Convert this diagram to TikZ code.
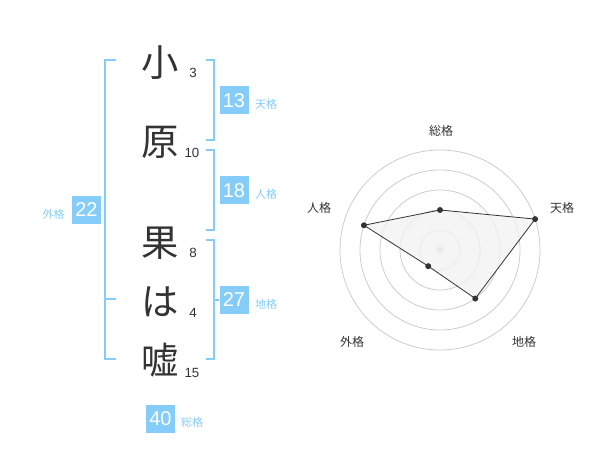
\documentclass[tikz,border=0pt]{standalone}
\usepackage{fontspec}
\setmainfont{Liberation Sans}
\newfontfamily\cjk{Noto Sans CJK JP}
\usepackage{xcolor}
\definecolor{myblue}{RGB}{133,204,248}
\definecolor{mydark}{RGB}{51,51,51}
\definecolor{mygrid}{RGB}{204,204,204}
\definecolor{myfill}{RGB}{242,242,242}
\tikzset{
  char/.style={mydark,inner sep=0,font=\cjk\fontsize{28}{28}\selectfont},
  strokes/.style={mydark,inner sep=0,font=\fontsize{10}{10}\selectfont},
  score/.style={fill=myblue,text=white,inner sep=0,minimum width=21.75pt,minimum height=21pt,font=\fontsize{15}{15}\selectfont},
  kaku/.style={myblue,inner sep=0,font=\cjk\fontsize{8.25}{9}\selectfont},
  axis label/.style={mydark,inner sep=0,font=\cjk\fontsize{9}{10}\selectfont},
  bracket/.style={myblue,line width=1.5pt},
  ring/.style={mygrid,line width=0.6pt},
  poly/.style={draw=mydark,fill=myfill,fill opacity=0.8,line width=0.6pt},
  dot/.style={fill=mydark}
}
\begin{document}
\begin{tikzpicture}[x=0.75pt,y=0.75pt]
    \useasboundingbox (0,0) rectangle (600,470);
    % name and strokes
    \node[char] (c1) at (160,407) {小};
    \node[char] (c2) at (160,328) {原};
    \node[char] (c3) at (160,227) {果};
    \node[char] (c4) at (160,168) {は};
    \node[char] (c5) at (160,110) {嘘};
    \node[strokes] (s1) at (193,397) {3};
    \node[strokes] (s2) at (192,317) {10};
    \node[strokes] (s3) at (193,217) {8};
    \node[strokes] (s4) at (193,157) {4};
    \node[strokes] (s5) at (192,97) {15};

    % scores
    \node[score] (ten) at (234,369.5) {13};
    \node[kaku] at (266,366) {天格};
    \node[score] (jin) at (234,279.5) {18};
    \node[kaku] at (266,276) {人格};
    \node[score] (chi) at (234,170) {27};
    \node[kaku] at (266,166) {地格};
    \node[score] (gai) at (86.5,260) {22};
    \node[kaku] at (53.5,256) {外格};
    \node[score] (sou) at (160.5,51) {40};
    \node[kaku] at (192,48) {総格};

    % brackets
    \draw[bracket] (116,410) -- (105,410) -- (105,111) -- (116,111);
    \draw[bracket] (105,171) -- (116,171);
    \draw[bracket] (206,410) -- (214,410) -- (214,330) -- (206,330);
    \draw[bracket] (206,320) -- (214,320) -- (214,240) -- (206,240);
    \draw[bracket] (206,230) -- (214,230) -- (214,111) -- (206,111);
    \draw[bracket] (214,170) -- (chi.west);

    % radar
    \begin{scope}[shift={(440,220)}]
      \foreach \r in {20,40,...,100}
        \draw[ring] (0,0) circle (\r);
      \fill[mygrid] (0,0) circle (3.5);
      \coordinate (r sou) at (90:40);
      \coordinate (r ten) at (18:100);
      \coordinate (r chi) at (-54:60);
      \coordinate (r gai) at (-126:20);
      \coordinate (r jin) at (162:80);
      \draw[poly] (r sou) -- (r ten) -- (r chi) -- (r gai) -- (r jin) -- cycle;
      \foreach \p in {r sou,r ten,r chi,r gai,r jin}
        \fill[dot] (\p) circle (3);
      \node[axis label] at (1,119) {総格};
      \node[axis label] at (122,42) {天格};
      \node[axis label] at (-121,42) {人格};
      \node[axis label] at (-88,-92) {外格};
      \node[axis label] at (84,-92) {地格};
    \end{scope}
\end{tikzpicture}
\end{document}
